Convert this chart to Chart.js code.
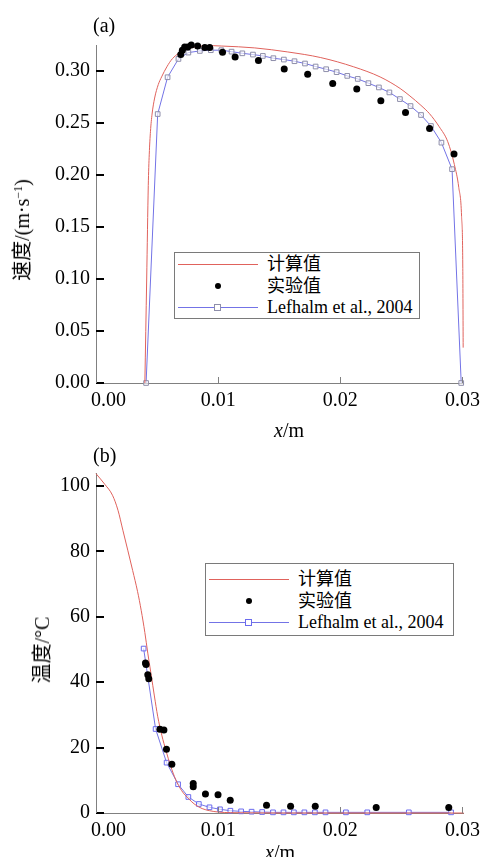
<!DOCTYPE html>
<html lang="zh">
<head>
<meta charset="utf-8">
<title>速度与温度分布</title>
<script src="https://cdn.jsdelivr.net/npm/chart.js@4.4.1/dist/chart.umd.min.js"></script>
<style>
  body { margin: 0; background: #fff; }
  #page {
    position: relative; width: 486px; height: 857px; overflow: hidden;
    font-family: 'Liberation Serif', 'Times New Roman', 'DejaVu Serif', 'Noto Sans CJK SC', serif; color: #000;
  }
  canvas { position: absolute; left: 0; }
  .txt { position: absolute; font-size: 20px; line-height: 20px; white-space: nowrap; }
  .xtitle { transform: translateX(-50%); }
  .ytitle { transform: translate(-50%, -50%) rotate(-90deg); }
  .ytitle sup { font-size: 12px; vertical-align: 7px; line-height: 0; }
  .legend {
    position: absolute; box-sizing: border-box; border: 1px solid #7a7a7a;
    background: #fff; font-size: 18px;
  }
  .legend .ln { position: absolute; height: 0; border-top: 1px solid; }
  .legend .sq { position: absolute; width: 5px; height: 5px; border: 1px solid; background: #fff; }
  .legend .dot { position: absolute; width: 6px; height: 6px; border-radius: 50%; background: #000; }
  .legend .lab { position: absolute; line-height: 20px; white-space: nowrap; }
</style>
</head>
<body>
<div id="page">
  <canvas id="chartA" width="486" height="428" style="top:0;width:486px;height:428px"></canvas>
  <canvas id="chartB" width="486" height="429" style="top:428px;width:486px;height:429px"></canvas>

  <div class="txt" style="left:93px;top:15px">(a)</div>
  <div class="txt ytitle" style="left:22px;top:230px">速度/(m·s<sup>−1</sup>)</div>
  <div class="txt xtitle" style="left:289px;top:420px"><i>x</i>/m</div>
  <div class="legend" id="legendA" style="left:174px;top:252px;width:246px;height:67px"></div>

  <div class="txt" style="left:93px;top:445px">(b)</div>
  <div class="txt ytitle" style="left:42px;top:650px">温度/°C</div>
  <div class="txt xtitle" style="left:280px;top:842px"><i>x</i>/m</div>
  <div class="legend" id="legendB" style="left:205px;top:563px;width:249px;height:73px"></div>
</div>

<script>
// series names (legend)
const seriesNames = ['计算值', '实验值', 'Lefhalm et al., 2004'];

// shared x ticks
const xTicks = [0, 0.01, 0.02, 0.03];

// (a) velocity profile, m/s
const yTicksA = [0, 0.05, 0.10, 0.15, 0.20, 0.25, 0.30];
const calcVelX = [0.0040, 0.00415, 0.00428, 0.00436, 0.00446, 0.00459, 0.0048, 0.0051, 0.00537, 0.0058, 0.00626,
  0.0072, 0.00869, 0.0090, 0.0103, 0.0130, 0.0157, 0.0184, 0.0211, 0.02326, 0.0249, 0.0257, 0.0266, 0.0273,
  0.0281, 0.0288, 0.02934, 0.0297, 0.02993, 0.03003, 0.03006];
const calcVelY = [0, 0.100, 0.190, 0.220, 0.242, 0.2586, 0.274, 0.287, 0.2943, 0.304, 0.3119,
  0.3200, 0.3241, 0.3245, 0.3240, 0.3222, 0.3183, 0.3129, 0.3040, 0.2943, 0.2832, 0.2760, 0.2670, 0.2590,
  0.2464, 0.2320, 0.2100, 0.1880, 0.1600, 0.1100, 0.0340];
const expVelX = [0.00694, 0.00707, 0.00726, 0.00751, 0.0078, 0.00832, 0.00891, 0.00931, 0.01036, 0.01139,
  0.0133, 0.01541, 0.01733, 0.01938, 0.02135, 0.02332, 0.02534, 0.02731, 0.02931];
const expVelY = [0.3158, 0.3200, 0.3231, 0.3231, 0.3250, 0.3241, 0.3225, 0.3225, 0.3180, 0.3135,
  0.3100, 0.3020, 0.2969, 0.2880, 0.2826, 0.2714, 0.2602, 0.2448, 0.2203];
const lefVelX = [0.0041, 0.00505, 0.00586, 0.00675, 0.00756, 0.0085, 0.0094, 0.01026, 0.0111, 0.01198,
  0.01285, 0.01366, 0.01452, 0.01538, 0.01625, 0.01711, 0.01798, 0.01884, 0.0197, 0.02057, 0.02143,
  0.0223, 0.02316, 0.02402, 0.02488, 0.02575, 0.02661, 0.02742, 0.02828, 0.02915, 0.0299];
const lefVelY = [0, 0.2586, 0.2940, 0.3116, 0.3177, 0.3193, 0.3200, 0.3200, 0.3186, 0.3170,
  0.3158, 0.3145, 0.3123, 0.3110, 0.3094, 0.3072, 0.3043, 0.3017, 0.2989, 0.2953, 0.2924,
  0.2883, 0.2842, 0.2794, 0.2730, 0.2663, 0.2577, 0.2471, 0.2311, 0.2056, 0];

// (b) temperature profile, °C
const yTicksB = [0, 20, 40, 60, 80, 100];
const calcTempX = [0, 0.00073, 0.00135, 0.0018, 0.0022, 0.0026, 0.0030, 0.0034, 0.0037, 0.0040, 0.00424,
  0.00451, 0.00478, 0.00505, 0.0054, 0.00572, 0.0061, 0.00653, 0.0070, 0.0076, 0.0081, 0.00869, 0.0093,
  0.0100, 0.0110, 0.0130, 0.0150, 0.0200, 0.0250, 0.0301];
const calcTempY = [103.8, 100.5, 97.2, 92.6, 86.5, 80.4, 74.2, 67.8, 62.0, 55.2, 48.9,
  42.4, 35.8, 29.6, 23.6, 19.2, 14.5, 10.2, 6.9, 4.3, 2.6, 1.35, 0.7,
  0.3, 0.1, 0.05, 0, 0, 0, 0];
const expTempX = [0.00405, 0.0041, 0.00424, 0.00432, 0.00523, 0.00556, 0.00577, 0.00621, 0.00796, 0.00796,
  0.00896, 0.00999, 0.01099, 0.01396, 0.01593, 0.01795, 0.02294, 0.02888];
const expTempY = [45.9, 45.4, 42.3, 41.1, 25.6, 25.4, 19.5, 14.9, 9.0, 8.0,
  5.8, 5.6, 3.9, 2.35, 2.05, 2.05, 1.65, 1.65];
const lefTempX = [0.0039, 0.00488, 0.00578, 0.00672, 0.00756, 0.00842, 0.00929, 0.01015, 0.0110, 0.01188,
  0.01274, 0.0136, 0.01449, 0.01535, 0.0162, 0.01706, 0.01792, 0.01879, 0.02046, 0.02221, 0.02561, 0.02907];
const lefTempY = [50.3, 25.7, 15.4, 8.8, 4.9, 2.75, 1.74, 1.13, 0.7, 0.5,
  0.4, 0.3, 0.2, 0.2, 0.2, 0.2, 0.2, 0.2, 0.2, 0.2, 0.2, 0.2];

const RED = '#e0625c';
const BLUE = '#7373e6';
const SQ_A = '#8e8eaa';
const SQ_B = '#6b6bee';
const AXIS = '#808080';
const FONT = "'Liberation Serif', 'Times New Roman', 'DejaVu Serif', 'Noto Sans CJK SC', serif";

Chart.defaults.font.family = FONT;
Chart.defaults.font.size = 20;
Chart.defaults.color = '#000';

const pts = (xs, ys) => xs.map((x, i) => ({ x: x, y: ys[i] }));

// tick marks pointing into the plot area
const innerTicks = {
  id: 'innerTicks',
  afterDraw(chart) {
    const { ctx, chartArea: a } = chart;
    const xs = chart.scales.x, ys = chart.scales.y;
    ctx.save();
    ctx.strokeStyle = '#000';
    ctx.lineWidth = 2;
    ys.ticks.forEach(t => {
      const y = Math.round(ys.getPixelForValue(t.value));
      ctx.beginPath();
      ctx.moveTo(a.left, y);
      ctx.lineTo(a.left + 8, y);
      ctx.stroke();
    });
    ctx.strokeStyle = AXIS;
    ctx.lineWidth = 1;
    xs.ticks.forEach(t => {
      const x = Math.round(xs.getPixelForValue(t.value)) + 0.5;
      ctx.beginPath();
      ctx.moveTo(x, a.bottom);
      ctx.lineTo(x, a.bottom - 6);
      ctx.stroke();
    });
    ctx.restore();
  }
};

function makeChart(id, cfg) {
  return new Chart(document.getElementById(id), {
    data: {
      datasets: [
        {
          type: 'scatter', label: seriesNames[1], data: pts(cfg.expX, cfg.expY),
          pointStyle: 'circle', pointRadius: 3.5, backgroundColor: '#000', borderColor: '#000',
          borderWidth: 0, order: 0, clip: false
        },
        {
          type: 'line', label: seriesNames[0], data: pts(cfg.calcX, cfg.calcY),
          borderColor: RED, borderWidth: 1, pointRadius: 0, cubicInterpolationMode: 'monotone',
          order: 1, clip: false
        },
        {
          type: 'line', label: seriesNames[2], data: pts(cfg.lefX, cfg.lefY),
          borderColor: BLUE, borderWidth: 1, tension: 0,
          pointStyle: 'rect', pointRadius: 3.3, pointBorderWidth: 1,
          pointBorderColor: cfg.sqColor, pointBackgroundColor: 'rgba(255,255,255,0.6)',
          order: 2, clip: false
        }
      ]
    },
    options: {
      responsive: false,
      animation: false,
      devicePixelRatio: 1,
      layout: { padding: { left: 0, top: 45, right: 19, bottom: 0 } },
      plugins: { legend: { display: false }, tooltip: { enabled: false } },
      scales: {
        x: {
          type: 'linear', min: 0, max: 0.0301,
          afterBuildTicks: s => { s.ticks = xTicks.map(v => ({ value: v })); },
          afterFit: s => { s.height = cfg.xHeight; },
          grid: { drawOnChartArea: false, drawTicks: false },
          border: { display: true, color: AXIS, width: 1 },
          ticks: {
            padding: 6, autoSkip: false, maxRotation: 0,
            callback: v => (v === 0 ? '     ' : '') + v.toFixed(2)
          }
        },
        y: {
          type: 'linear', min: 0, max: cfg.yMax,
          afterBuildTicks: s => { s.ticks = cfg.yTicks.map(v => ({ value: v })); },
          afterFit: s => { s.width = 96; },
          grid: { drawOnChartArea: false, drawTicks: false },
          border: { display: true, color: AXIS, width: 1 },
          ticks: { padding: 6, autoSkip: false, callback: cfg.yFmt }
        }
      }
    },
    plugins: [innerTicks]
  });
}

makeChart('chartA', {
  calcX: calcVelX, calcY: calcVelY, expX: expVelX, expY: expVelY, lefX: lefVelX, lefY: lefVelY,
  sqColor: SQ_A, yMax: 0.325, yTicks: yTicksA, xHeight: 45, yFmt: v => v.toFixed(2)
});
makeChart('chartB', {
  calcX: calcTempX, calcY: calcTempY, expX: expTempX, expY: expTempY, lefX: lefTempX, lefY: lefTempY,
  sqColor: SQ_B, yMax: 104, yTicks: yTicksB, xHeight: 44, yFmt: v => String(v)
});

// legends: one row per series
function buildLegend(id, rows, sqColor) {
  const box = document.getElementById(id);
  const kinds = ['line', 'dot', 'lineSq'];
  kinds.forEach((kind, i) => {
    const cy = rows[i];
    if (kind !== 'dot') {
      const ln = document.createElement('div');
      ln.className = 'ln';
      ln.style.cssText = `left:3px;width:80px;top:${cy}px;border-top-color:${kind === 'line' ? RED : BLUE}`;
      box.appendChild(ln);
    }
    if (kind === 'dot') {
      const d = document.createElement('div');
      d.className = 'dot';
      d.style.cssText = `left:40px;top:${cy - 3}px`;
      box.appendChild(d);
    }
    if (kind === 'lineSq') {
      const s = document.createElement('div');
      s.className = 'sq';
      s.style.cssText = `left:39px;top:${cy - 3}px;border-color:${sqColor}`;
      box.appendChild(s);
    }
    const lab = document.createElement('div');
    lab.className = 'lab';
    lab.textContent = seriesNames[i];
    lab.style.cssText = `left:92px;top:${cy - 10}px`;
    box.appendChild(lab);
  });
}

buildLegend('legendA', [11, 33, 54], SQ_A);
buildLegend('legendB', [15, 37, 58], SQ_B);
</script>
</body>
</html>
